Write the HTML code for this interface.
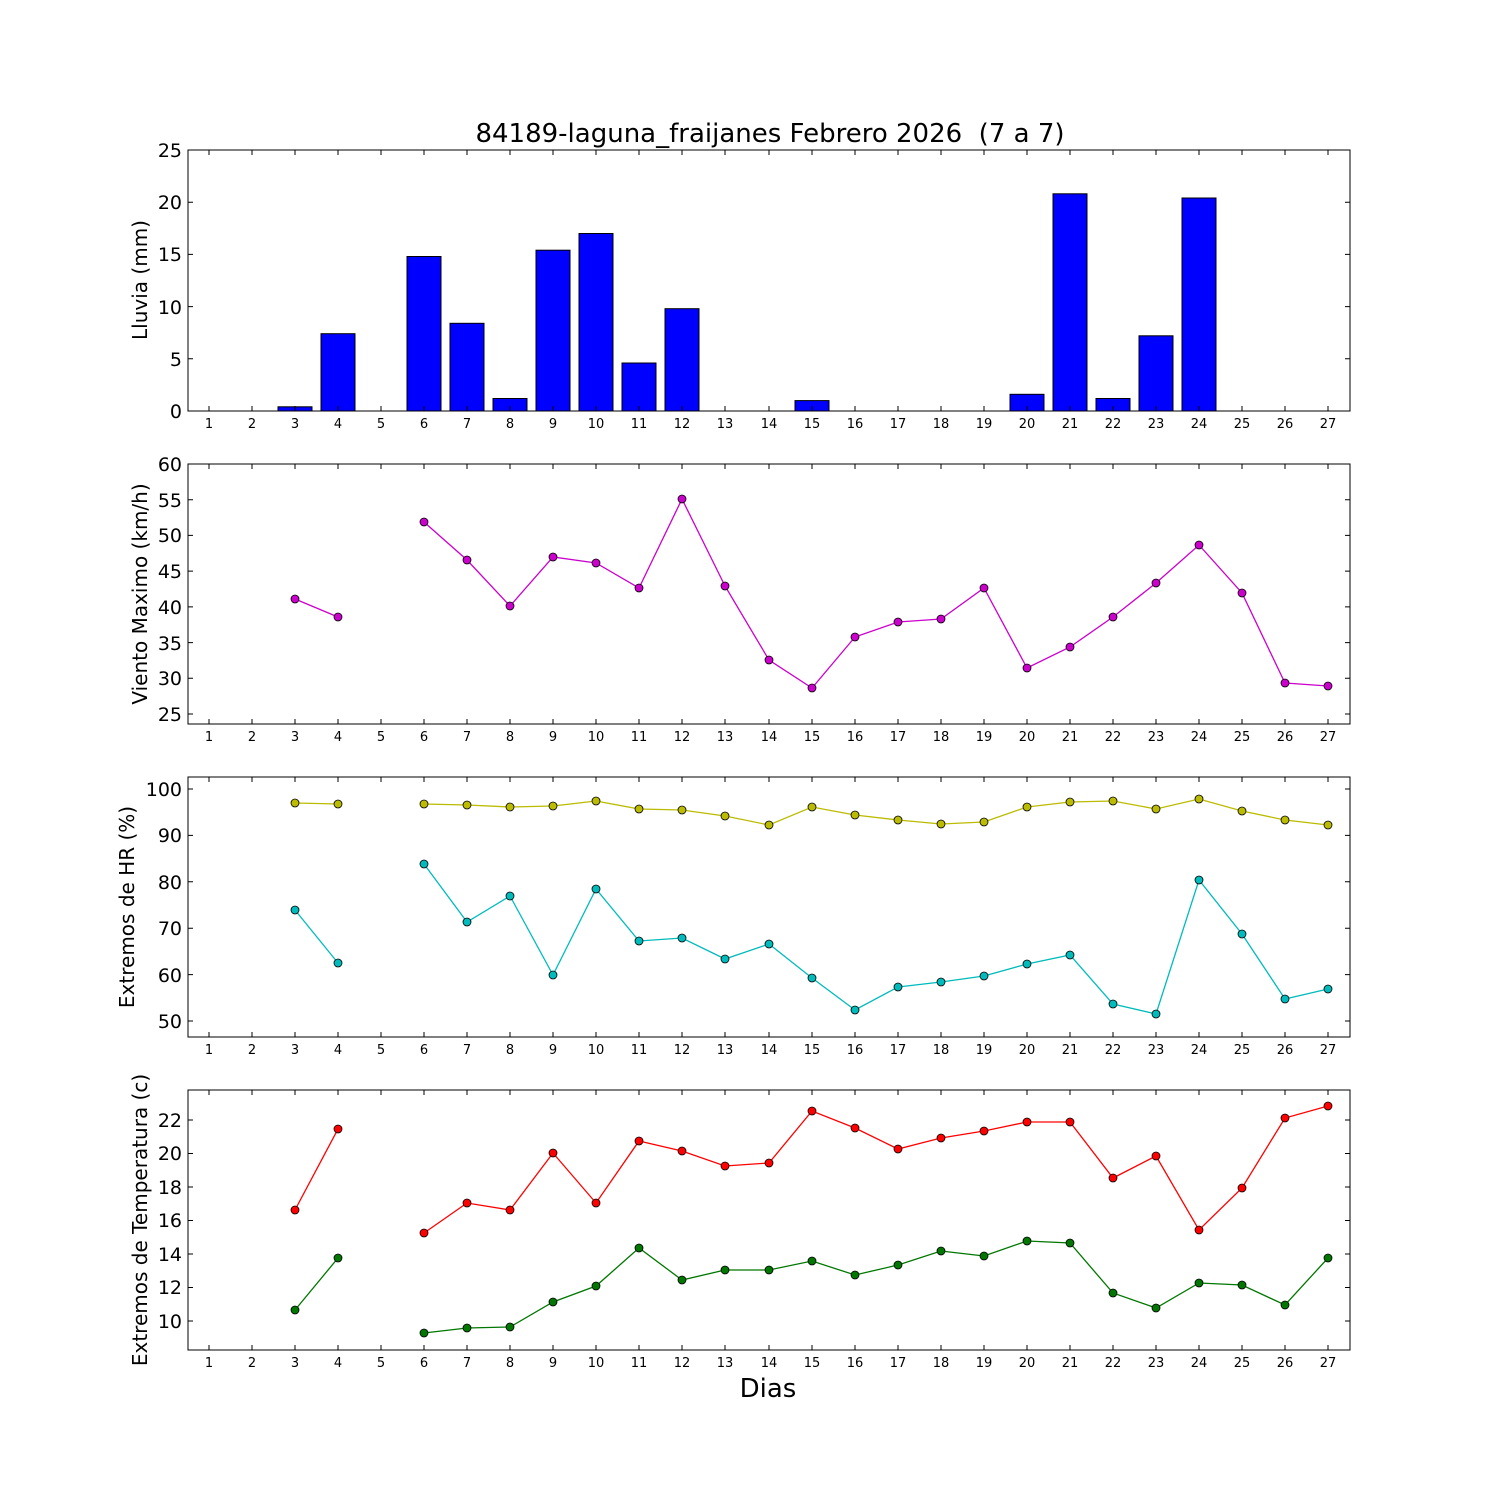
<!DOCTYPE html><html><head><meta charset="utf-8"><style>body{margin:0;background:#fff}svg{display:block}text{font-family:"DejaVu Sans","Liberation Sans",sans-serif;fill:#000}</style></head><body>
<svg width="1500" height="1500" viewBox="0 0 1500 1500" xmlns="http://www.w3.org/2000/svg">
<defs>
<g id="xt">
<path d="M209 0v-5M252 0v-5M295 0v-5M338 0v-5M381 0v-5M424 0v-5M467 0v-5M510 0v-5M553 0v-5M596 0v-5M639 0v-5M682 0v-5M725 0v-5M769 0v-5M812 0v-5M855 0v-5M898 0v-5M941 0v-5M984 0v-5M1027 0v-5M1070 0v-5M1113 0v-5M1156 0v-5M1199 0v-5M1242 0v-5M1285 0v-5M1328 0v-5" stroke="#000" stroke-width="1"/>
<g font-size="13" text-anchor="middle">
<text x="209" y="17">1</text><text x="252" y="17">2</text><text x="295" y="17">3</text><text x="338" y="17">4</text><text x="381" y="17">5</text><text x="424" y="17">6</text><text x="467" y="17">7</text><text x="510" y="17">8</text><text x="553" y="17">9</text><text x="596" y="17">10</text><text x="639" y="17">11</text><text x="682" y="17">12</text><text x="725" y="17">13</text><text x="769" y="17">14</text><text x="812" y="17">15</text><text x="855" y="17">16</text><text x="898" y="17">17</text><text x="941" y="17">18</text><text x="984" y="17">19</text><text x="1027" y="17">20</text><text x="1070" y="17">21</text><text x="1113" y="17">22</text><text x="1156" y="17">23</text><text x="1199" y="17">24</text><text x="1242" y="17">25</text><text x="1285" y="17">26</text><text x="1328" y="17">27</text>
</g></g>
<g id="xtt"><path d="M209 0v5M252 0v5M295 0v5M338 0v5M381 0v5M424 0v5M467 0v5M510 0v5M553 0v5M596 0v5M639 0v5M682 0v5M725 0v5M769 0v5M812 0v5M855 0v5M898 0v5M941 0v5M984 0v5M1027 0v5M1070 0v5M1113 0v5M1156 0v5M1199 0v5M1242 0v5M1285 0v5M1328 0v5" stroke="#000"/></g>
</defs>
<text x="770" y="142" font-size="26" text-anchor="middle">84189-laguna_fraijanes Febrero 2026 &#160;(7 a 7)</text>

<!-- Panel 1 -->
<g fill="#00f" stroke="#000" stroke-width="1">
<rect x="278" y="406.8" width="34" height="4.2"/>
<rect x="321" y="333.7" width="34" height="77.3"/>
<rect x="407" y="256.5" width="34" height="154.5"/>
<rect x="450" y="323.3" width="34" height="87.7"/>
<rect x="493" y="398.5" width="34" height="12.5"/>
<rect x="536" y="250.2" width="34" height="160.8"/>
<rect x="579" y="233.5" width="34" height="177.5"/>
<rect x="622" y="363" width="34" height="48"/>
<rect x="665" y="308.7" width="34" height="102.3"/>
<rect x="795" y="400.6" width="34" height="10.4"/>
<rect x="1010" y="394.3" width="34" height="16.7"/>
<rect x="1053" y="193.8" width="34" height="217.2"/>
<rect x="1096" y="398.5" width="34" height="12.5"/>
<rect x="1139" y="335.8" width="34" height="75.2"/>
<rect x="1182" y="198" width="34" height="213"/>
</g>
<rect x="188" y="150" width="1162" height="261" fill="none" stroke="#000"/>
<use href="#xt" transform="translate(0,411)"/>
<use href="#xtt" transform="translate(0,150)"/>
<path d="M188 411h5M188 358.8h5M188 306.6h5M188 254.4h5M188 202.2h5M188 150h5M1350 411h-5M1350 358.8h-5M1350 306.6h-5M1350 254.4h-5M1350 202.2h-5M1350 150h-5" stroke="#000"/>
<g font-size="19" text-anchor="end"><text x="182" y="418">0</text><text x="182" y="366">5</text><text x="182" y="314">10</text><text x="182" y="261">15</text><text x="182" y="209">20</text><text x="182" y="157">25</text></g>
<text transform="translate(147,280) rotate(-90)" font-size="20" text-anchor="middle">Lluvia (mm)</text>

<!-- Panel 2 -->
<rect x="188" y="464" width="1162" height="260" fill="none" stroke="#000"/>
<use href="#xt" transform="translate(0,724)"/><use href="#xtt" transform="translate(0,464)"/>
<path d="M188 464h5M188 499.7h5M188 535.4h5M188 571.1h5M188 606.9h5M188 642.6h5M188 678.3h5M188 714h5M1350 464h-5M1350 499.7h-5M1350 535.4h-5M1350 571.1h-5M1350 606.9h-5M1350 642.6h-5M1350 678.3h-5M1350 714h-5" stroke="#000"/>
<g font-size="19" text-anchor="end"><text x="182" y="471">60</text><text x="182" y="507">55</text><text x="182" y="542">50</text><text x="182" y="578">45</text><text x="182" y="614">40</text><text x="182" y="650">35</text><text x="182" y="685">30</text><text x="182" y="721">25</text></g>
<text transform="translate(147,594) rotate(-90)" font-size="20" text-anchor="middle">Viento Maximo (km/h)</text>
<g stroke="#c0c" fill="none" stroke-width="1.3"><polyline points="295,599 338,617"/><polyline points="424,522 467,560 510,606 553,557 596,563 639,588 682,499 725,586 769,660 812,688 855,637 898,622 941,619 984,588 1027,668 1070,647 1113,617 1156,583 1199,545 1242,593 1285,683 1328,686"/></g>
<g fill="#c0c" stroke="#000" stroke-width="0.8">
<circle cx="295" cy="599" r="4"/><circle cx="338" cy="617" r="4"/><circle cx="424" cy="522" r="4"/><circle cx="467" cy="560" r="4"/><circle cx="510" cy="606" r="4"/><circle cx="553" cy="557" r="4"/><circle cx="596" cy="563" r="4"/><circle cx="639" cy="588" r="4"/><circle cx="682" cy="499" r="4"/><circle cx="725" cy="586" r="4"/><circle cx="769" cy="660" r="4"/><circle cx="812" cy="688" r="4"/><circle cx="855" cy="637" r="4"/><circle cx="898" cy="622" r="4"/><circle cx="941" cy="619" r="4"/><circle cx="984" cy="588" r="4"/><circle cx="1027" cy="668" r="4"/><circle cx="1070" cy="647" r="4"/><circle cx="1113" cy="617" r="4"/><circle cx="1156" cy="583" r="4"/><circle cx="1199" cy="545" r="4"/><circle cx="1242" cy="593" r="4"/><circle cx="1285" cy="683" r="4"/><circle cx="1328" cy="686" r="4"/></g>

<!-- Panel 3 -->
<rect x="188" y="777" width="1162" height="260" fill="none" stroke="#000"/>
<use href="#xt" transform="translate(0,1037)"/><use href="#xtt" transform="translate(0,777)"/>
<path d="M188 789h5M188 835.4h5M188 881.8h5M188 928.2h5M188 974.6h5M188 1021h5M1350 789h-5M1350 835.4h-5M1350 881.8h-5M1350 928.2h-5M1350 974.6h-5M1350 1021h-5" stroke="#000"/>
<g font-size="19" text-anchor="end"><text x="182" y="796">100</text><text x="182" y="842">90</text><text x="182" y="889">80</text><text x="182" y="935">70</text><text x="182" y="982">60</text><text x="182" y="1028">50</text></g>
<text transform="translate(134,907) rotate(-90)" font-size="20" text-anchor="middle">Extremos de HR (%)</text>
<g stroke="#bb0" fill="none" stroke-width="1.3"><polyline points="295,803 338,804"/><polyline points="424,804 467,805 510,807 553,806 596,801 639,809 682,810 725,816 769,825 812,807 855,815 898,820 941,824 984,822 1027,807 1070,802 1113,801 1156,809 1199,799 1242,811 1285,820 1328,825"/></g>
<g fill="#bb0" stroke="#000" stroke-width="0.8">
<circle cx="295" cy="803" r="4"/><circle cx="338" cy="804" r="4"/><circle cx="424" cy="804" r="4"/><circle cx="467" cy="805" r="4"/><circle cx="510" cy="807" r="4"/><circle cx="553" cy="806" r="4"/><circle cx="596" cy="801" r="4"/><circle cx="639" cy="809" r="4"/><circle cx="682" cy="810" r="4"/><circle cx="725" cy="816" r="4"/><circle cx="769" cy="825" r="4"/><circle cx="812" cy="807" r="4"/><circle cx="855" cy="815" r="4"/><circle cx="898" cy="820" r="4"/><circle cx="941" cy="824" r="4"/><circle cx="984" cy="822" r="4"/><circle cx="1027" cy="807" r="4"/><circle cx="1070" cy="802" r="4"/><circle cx="1113" cy="801" r="4"/><circle cx="1156" cy="809" r="4"/><circle cx="1199" cy="799" r="4"/><circle cx="1242" cy="811" r="4"/><circle cx="1285" cy="820" r="4"/><circle cx="1328" cy="825" r="4"/></g>
<g stroke="#0bb" fill="none" stroke-width="1.3"><polyline points="295,910 338,963"/><polyline points="424,864 467,922 510,896 553,975 596,889 639,941 682,938 725,959 769,944 812,978 855,1010 898,987 941,982 984,976 1027,964 1070,955 1113,1004 1156,1014 1199,880 1242,934 1285,999 1328,989"/></g>
<g fill="#0bb" stroke="#000" stroke-width="0.8">
<circle cx="295" cy="910" r="4"/><circle cx="338" cy="963" r="4"/><circle cx="424" cy="864" r="4"/><circle cx="467" cy="922" r="4"/><circle cx="510" cy="896" r="4"/><circle cx="553" cy="975" r="4"/><circle cx="596" cy="889" r="4"/><circle cx="639" cy="941" r="4"/><circle cx="682" cy="938" r="4"/><circle cx="725" cy="959" r="4"/><circle cx="769" cy="944" r="4"/><circle cx="812" cy="978" r="4"/><circle cx="855" cy="1010" r="4"/><circle cx="898" cy="987" r="4"/><circle cx="941" cy="982" r="4"/><circle cx="984" cy="976" r="4"/><circle cx="1027" cy="964" r="4"/><circle cx="1070" cy="955" r="4"/><circle cx="1113" cy="1004" r="4"/><circle cx="1156" cy="1014" r="4"/><circle cx="1199" cy="880" r="4"/><circle cx="1242" cy="934" r="4"/><circle cx="1285" cy="999" r="4"/><circle cx="1328" cy="989" r="4"/></g>

<!-- Panel 4 -->
<rect x="188" y="1090" width="1162" height="260" fill="none" stroke="#000"/>
<use href="#xt" transform="translate(0,1350)"/><use href="#xtt" transform="translate(0,1090)"/>
<path d="M188 1120h5M188 1153.5h5M188 1187h5M188 1220.5h5M188 1254h5M188 1287.5h5M188 1321h5M1350 1120h-5M1350 1153.5h-5M1350 1187h-5M1350 1220.5h-5M1350 1254h-5M1350 1287.5h-5M1350 1321h-5" stroke="#000"/>
<g font-size="19" text-anchor="end"><text x="182" y="1127">22</text><text x="182" y="1160">20</text><text x="182" y="1194">18</text><text x="182" y="1227">16</text><text x="182" y="1261">14</text><text x="182" y="1294">12</text><text x="182" y="1328">10</text></g>
<text transform="translate(147,1220) rotate(-90)" font-size="20" text-anchor="middle">Extremos de Temperatura (c)</text>
<g stroke="#f00" fill="none" stroke-width="1.3"><polyline points="295,1210 338,1129"/><polyline points="424,1233 467,1203 510,1210 553,1153 596,1203 639,1141 682,1151 725,1166 769,1163 812,1111 855,1128 898,1149 941,1138 984,1131 1027,1122 1070,1122 1113,1178 1156,1156 1199,1230 1242,1188 1285,1118 1328,1106"/></g>
<g fill="#f00" stroke="#000" stroke-width="0.8">
<circle cx="295" cy="1210" r="4"/><circle cx="338" cy="1129" r="4"/><circle cx="424" cy="1233" r="4"/><circle cx="467" cy="1203" r="4"/><circle cx="510" cy="1210" r="4"/><circle cx="553" cy="1153" r="4"/><circle cx="596" cy="1203" r="4"/><circle cx="639" cy="1141" r="4"/><circle cx="682" cy="1151" r="4"/><circle cx="725" cy="1166" r="4"/><circle cx="769" cy="1163" r="4"/><circle cx="812" cy="1111" r="4"/><circle cx="855" cy="1128" r="4"/><circle cx="898" cy="1149" r="4"/><circle cx="941" cy="1138" r="4"/><circle cx="984" cy="1131" r="4"/><circle cx="1027" cy="1122" r="4"/><circle cx="1070" cy="1122" r="4"/><circle cx="1113" cy="1178" r="4"/><circle cx="1156" cy="1156" r="4"/><circle cx="1199" cy="1230" r="4"/><circle cx="1242" cy="1188" r="4"/><circle cx="1285" cy="1118" r="4"/><circle cx="1328" cy="1106" r="4"/></g>
<g stroke="#070" fill="none" stroke-width="1.3"><polyline points="295,1310 338,1258"/><polyline points="424,1333 467,1328 510,1327 553,1302 596,1286 639,1248 682,1280 725,1270 769,1270 812,1261 855,1275 898,1265 941,1251 984,1256 1027,1241 1070,1243 1113,1293 1156,1308 1199,1283 1242,1285 1285,1305 1328,1258"/></g>
<g fill="#070" stroke="#000" stroke-width="0.8">
<circle cx="295" cy="1310" r="4"/><circle cx="338" cy="1258" r="4"/><circle cx="424" cy="1333" r="4"/><circle cx="467" cy="1328" r="4"/><circle cx="510" cy="1327" r="4"/><circle cx="553" cy="1302" r="4"/><circle cx="596" cy="1286" r="4"/><circle cx="639" cy="1248" r="4"/><circle cx="682" cy="1280" r="4"/><circle cx="725" cy="1270" r="4"/><circle cx="769" cy="1270" r="4"/><circle cx="812" cy="1261" r="4"/><circle cx="855" cy="1275" r="4"/><circle cx="898" cy="1265" r="4"/><circle cx="941" cy="1251" r="4"/><circle cx="984" cy="1256" r="4"/><circle cx="1027" cy="1241" r="4"/><circle cx="1070" cy="1243" r="4"/><circle cx="1113" cy="1293" r="4"/><circle cx="1156" cy="1308" r="4"/><circle cx="1199" cy="1283" r="4"/><circle cx="1242" cy="1285" r="4"/><circle cx="1285" cy="1305" r="4"/><circle cx="1328" cy="1258" r="4"/></g>
<text x="768" y="1397" font-size="26" text-anchor="middle">Dias</text>
</svg>
</body></html>
